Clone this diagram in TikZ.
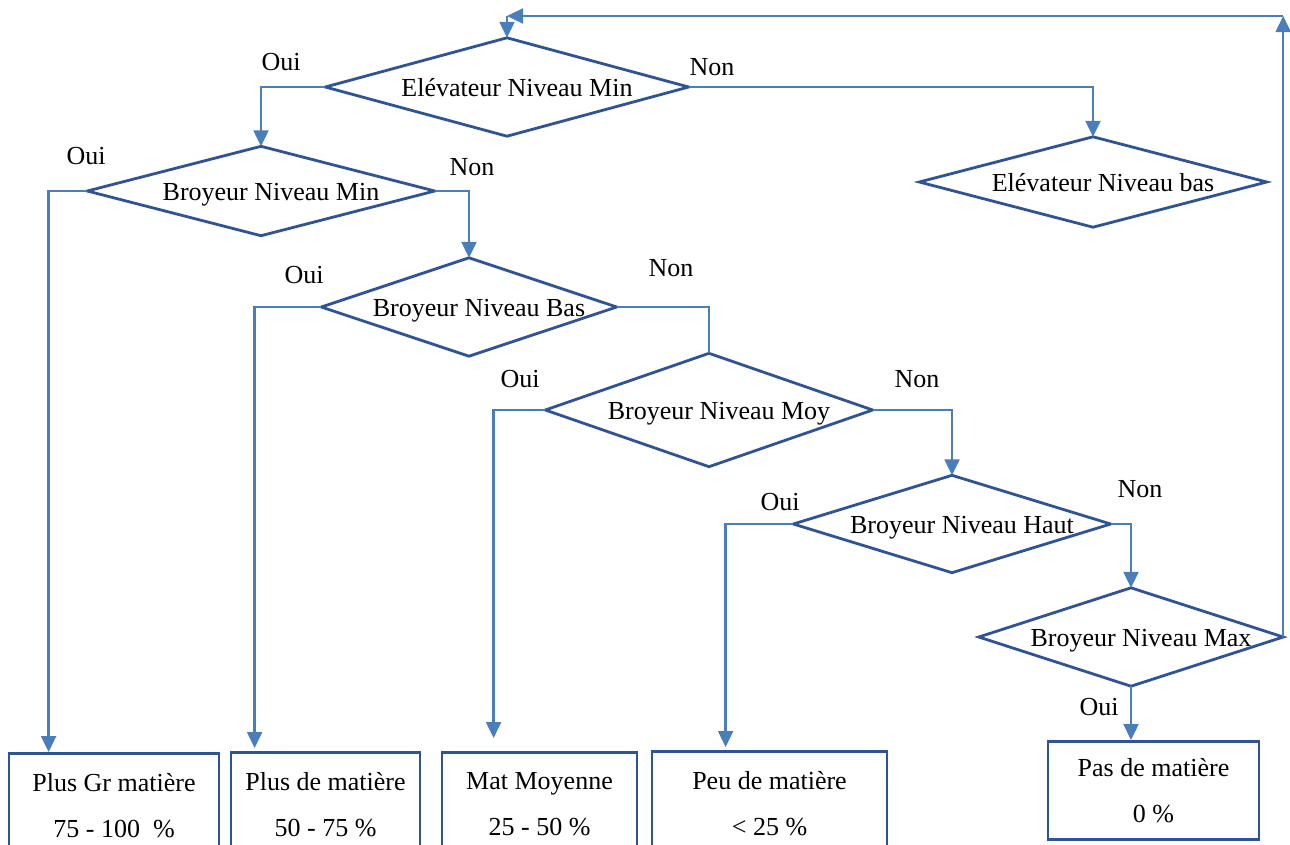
\documentclass[tikz,border=0pt]{standalone}
\usepackage{fontspec}
\setmainfont{Liberation Serif}
\usetikzlibrary{arrows.meta}
\definecolor{dblue}{RGB}{47,84,150}
\definecolor{lblue}{RGB}{74,126,187}
\newcommand\mydia[6]{%
  \node[dtext, minimum width=#4pt, minimum height=#5pt] (#1) at (#2,#3) {\hspace*{20pt}#6};
  \draw[dline] (#1.west)--(#1.north)--(#1.east)--(#1.south)--cycle;}
\begin{document}
\begin{tikzpicture}[x=1pt,y=-1pt,
  dtext/.style={inner sep=0pt, text height=18pt, text depth=0pt, font=\fontsize{26}{30}\selectfont},
  dline/.style={draw=dblue, line width=2.8pt, line join=miter},
  box/.style={draw=dblue, line width=2.8pt, anchor=north, align=center, inner sep=0pt, font=\fontsize{26}{46}\selectfont},
  conn/.style={draw=lblue, line width=2.3pt},
  arr/.style={conn, -{Triangle[length=16pt,width=15pt]}},
  lab/.style={font=\fontsize{26}{30}\selectfont, inner sep=0pt}
]
\useasboundingbox (0,0) rectangle (1290,844);
\clip (0,0) rectangle (1290,844);

\mydia{D1}{507}{87}{363}{98}{El\'evateur Niveau Min}
\mydia{D2}{1093}{182}{347}{90}{El\'evateur Niveau bas}
\mydia{D3}{261}{191}{347}{89}{Broyeur Niveau Min}
\mydia{D4}{469}{307}{295}{98}{Broyeur Niveau Bas}
\mydia{D5}{709}{410}{327}{113}{Broyeur Niveau Moy}
\mydia{D6}{952}{524}{317}{97}{Broyeur Niveau Haut}
\mydia{D7}{1131}{637}{304}{98}{Broyeur Niveau Max}

\node[box, minimum width=210pt, minimum height=104pt] (B1) at (114,752) {Plus Gr mati\`ere\\75 - 100\ \ \%};
\node[box, minimum width=189pt, minimum height=104pt] (B2) at (325.5,751) {Plus de mati\`ere\\50 - 75 \%};
\node[box, minimum width=195pt, minimum height=104pt] (B3) at (539.5,751) {Mat Moyenne\\25 - 50 \%};
\node[box, minimum width=235pt, minimum height=104pt] (B4) at (769.5,750) {Peu de mati\`ere\\< 25 \%};
\node[box, minimum width=211pt, minimum height=98pt] (B5) at (1153.5,740) {Pas de mati\`ere\\0 \%};

\coordinate (top) at (507,16);
\coordinate (rt) at (D7.east |- top);
\draw[arr] (D7.east) -- (rt);
\draw[arr] (rt) -- (top);
\draw[arr] (top) -- (D1.north);

\draw[arr] (D1.west) -| (D3.north);
\draw[arr] (D1.east) -| (D2.north);
\draw[arr] (D3.west) -| ([xshift=41pt]B1.north west);
\draw[arr] (D3.east) -| (D4.north);
\draw[arr, shorten >=3pt] (D4.west) -| ([xshift=25pt]B2.north west);
\draw[conn] (D4.east) -| (D5.north);
\draw[arr, shorten >=13pt] (D5.west) -| ([xshift=53pt]B3.north west);
\draw[arr] (D5.east) -| (D6.north);
\draw[arr, shorten >=3pt] (D6.west) -| ([xshift=75pt]B4.north west);
\draw[arr] (D6.east) -| (D7.north);
\draw[arr] (D7.south) -- (D7.south |- B5.north);

\node[lab] (l1) at (281,62) {Oui};
\node[lab] (l2) at (712,67) {Non};
\node[lab] (l3) at (86,156) {Oui};
\node[lab] (l4) at (472,167) {Non};
\node[lab] (l5) at (304,275) {Oui};
\node[lab] (l6) at (671,268) {Non};
\node[lab] (l7) at (520,379) {Oui};
\node[lab] (l8) at (917,379) {Non};
\node[lab] (l9) at (780,502) {Oui};
\node[lab] (l10) at (1140,489) {Non};
\node[lab] (l11) at (1099,707) {Oui};
\end{tikzpicture}
\end{document}
